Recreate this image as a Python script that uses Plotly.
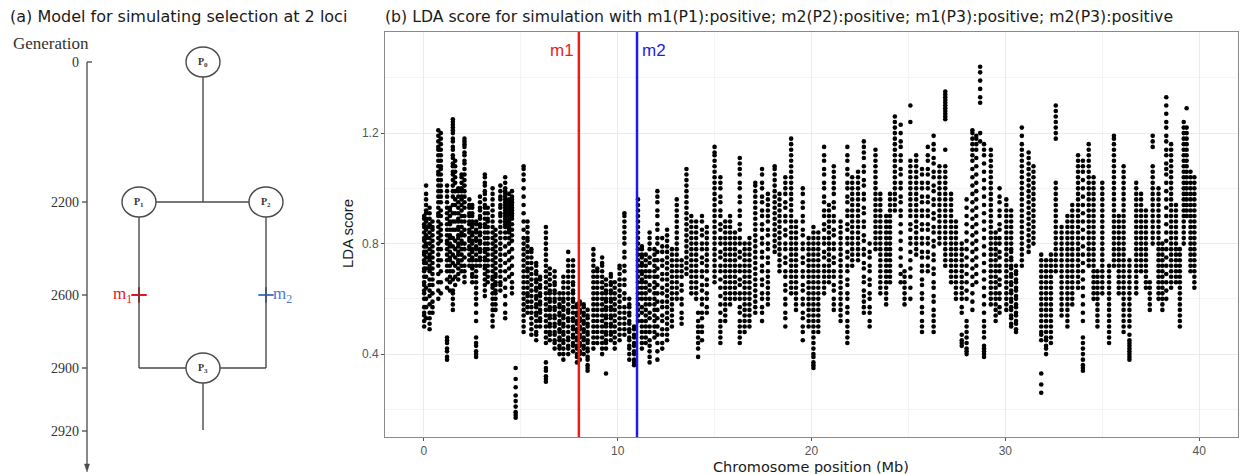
import plotly.graph_objects as go

# ---------------- data (panel b) ----------------
# chromosome position (Mb) of each streak of SNPs
streak_pos = [
    0.02, 0.12, 0.30, 0.45, 0.75, 0.88, 1.2, 1.35, 1.5, 1.62,
    1.78, 1.95, 2.1, 2.35, 2.5, 2.7, 2.9, 3.15, 3.3, 3.55,
    3.7, 3.95, 4.2, 4.4, 4.55, 4.74, 5.15, 5.35, 5.55, 5.8,
    6.0, 6.3, 6.5, 6.75, 7.0, 7.2, 7.45, 7.7, 7.9, 8.05,
    8.25, 8.45, 8.75, 8.95, 9.2, 9.4, 9.65, 9.85, 10.1, 10.35,
    10.6, 10.85, 11.05, 11.25, 11.45, 11.65, 11.9, 12.05, 12.3, 12.55,
    12.8, 13.05, 13.3, 13.55, 13.8, 14.05, 14.15, 14.35, 14.6, 15.0,
    15.3, 15.55, 15.8, 16.05, 16.3, 16.55, 16.8, 17.1, 17.45, 17.75,
    18.1, 18.35, 18.65, 18.95, 19.2, 19.55, 19.85, 20.1, 20.35, 20.65,
    20.9, 21.15, 21.5, 21.85, 22.1, 22.4, 22.7, 23.0, 23.3, 23.55,
    23.85, 24.05, 24.3, 24.6, 24.8, 25.1, 25.4, 25.7, 26.0, 26.3,
    26.6, 26.9, 27.2, 27.45, 27.75, 28.0, 28.3, 28.5, 28.7, 28.9,
    29.25, 29.5, 29.7, 30.05, 30.3, 30.55, 30.85, 31.2, 31.45, 31.85,
    32.1, 32.35, 32.6, 32.9, 33.2, 33.45, 33.75, 34.0, 34.3, 34.55,
    34.75, 35.0, 35.35, 35.6, 35.85, 36.1, 36.4, 36.75, 37.0, 37.25,
    37.45, 37.6, 37.9, 38.1, 38.3, 38.55, 38.8, 39.0, 39.2, 39.35,
    39.55, 39.75,
]

# LDA scores (x100) of the SNPs in each streak, same order as streak_pos
streak_lda = [
    [50,52,54,55,57,60,62,63,65,66,68,70,71,73,74,76,77,79,81,82,84,86,87,89,90],
    [53,57,60,64,68,71,73,75,77,79,80,82,83,85,86,88,89,91,92,94,96,98,101],
    [49,51,53,55,58,61,63,65,67,70,71,72,74,75,76,78,80,82,84,86,87,89,91,93],
    [55,57,59,62,65,67,69,71,73,75,77,79,81,83,85,86,88],
    [60,63,66,69,72,74,76,78,80,82,84,86,88,90,91,93,95,97,99,101,103,105,106,108,110,112,114,115,117,119,121],
    [62,66,70,74,78,81,83,85,87,90,92,95,97,99,101,103,105,107,108,110,112,114,116,118,120],
    [38,39,41,42,44,45,46,64,67,70,72,74,76,78,80,81,83,85,87,89,91,93,95,97,99,101],
    [63,66,68,70,72,74,75,77,79,80,82,83,85,87,88,90,92,93],
    [56,58,60,62,63,67,70,73,76,79,82,85,88,91,94,97,99,101,103,105,106,108,109,111,112,114,115,117,118,120,121,122,123,124,125],
    [65,68,72,75,78,81,85,88,91,94,96,99,102,104,106,108,110],
    [67,69,71,73,74,76,77,79,80,82,83,85,86,88,89,91,93,95,97,99,100],
    [70,72,74,76,78,80,81,83,84,86,88,90,92,94,96,97,99,100,102,104,105],
    [66,68,70,72,75,78,80,83,85,88,90,93,95,97,99,101,103,105,107,109,110,112,113,115,116,117,118],
    [72,74,76,78,79,81,82,84,85,87,88,90,91,93,94,96],
    [66,68,69,71,72,74,75,77,78,80,81,83,84,86,87,88,90,91,93,94],
    [39,40,41,43,44,46,52,55,58,60,62,64,66,68,70,72,74,76,78,79,81,82,84,85,87,88],
    [72,74,75,77,78,80,81,83,84,86,87,89,90,92,93,95,97],
    [61,63,65,67,69,71,72,74,75,77,78,80,82,84,86,87,89,91,93,94,96,98,99,101,102,104,105],
    [66,68,70,72,74,76,78,80,82,84,86,88,89,91,93],
    [50,52,54,56,58,60,62,64,65,67,68,70,72,74,76,78,80,82,84,86,88,90,92,94,96,98,100],
    [56,58,60,62,63,65,66,68,69,71,73,75,77,79,81,83,85],
    [63,65,66,68,70,72,74,76,78,80,82,84,86,88,90,91,93,94,96,97,99,101],
    [53,55,58,61,64,67,70,73,76,79,82,84,86,87,88,89,90,91,92,93,94,95,96,97,98,99,100,102,104],
    [68,71,74,77,80,82,84,85,86,87,88,89,90,91,92,93,94,95,96,98],
    [62,64,66,69,72,75,78,81,83,85,87,89,90,91,92,93,94,95,96,97,99],
    [17,18,19,21,23,25,28,31,35],
    [48,50,52,54,56,58,60,62,64,66,68,70,72,74,76,78,80,82,85,88,91,94,97,100,103,105,107,108],
    [55,57,59,61,62,64,66,68,70,71,73,75,77,79,81,82,84,86,88],
    [47,49,51,53,55,57,59,61,63,65,67,69,71,73,75,77,78],
    [45,47,48,50,52,54,55,57,58,60,61,63,64,66,67,69,70,72,73],
    [50,52,53,55,56,58,59,61,62,64,65,67,68],
    [30,31,32,34,35,37,44,46,48,50,52,54,56,58,60,62,64,66,68,70,72,74,76,78,80,82,84,86],
    [45,47,48,50,51,53,54,56,57,59,60,62,63,65,67,69,71],
    [42,44,45,47,48,50,51,53,54,56,57,59,60,62,63,65,66,68,70],
    [40,42,43,45,46,48,49,51,52,54,55,57,58,60,62],
    [38,40,42,44,45,47,48,50,51,53,54,56,57,59,60,62,64,66,68],
    [40,42,43,45,46,48,50,52,53,55,56,58,60,62,64,66,68,70,72,74,77],
    [41,43,44,46,47,49,50,52,53,55,57,59,60,62,63,65,66,68,70,72,74],
    [37,39,40,42,43,45,46,48,49,51,52,54,55,57,58],
    [38,40,41,43,44,46,47,49,50,52,53,55,56,58,59],
    [40,42,43,45,46,48,49,51,52,54,55,57,58],
    [34,35,36,38,39,41,42,44,45,47,48,50,51,53,54,56],
    [42,44,46,48,50,52,54,56,58,60,62,64,66,68,70,72,74,76,78],
    [44,46,48,50,52,54,56,58,60,62,64,66,68,70,71],
    [40,42,44,46,48,50,52,54,56,58,60,62,64,66,68,70,72,73,75],
    [33,42,44,45,47,48,50,51,53,54,56,57,59,60,62,63,65,67],
    [45,47,48,50,51,53,54,56,57,59,60,62,63,65,66,68,69],
    [42,44,46,48,50,52,54,56,58,60,62,64,66],
    [45,47,49,51,53,55,57,59,61,63,65,67,69,71,72],
    [47,49,51,53,55,57,60,62,65,67,70,72,75,77,80,82,84,86,88,90,91],
    [38,40,42,43,45,46,48,49,51,52,54,55,57,58,60],
    [36,37,38,40,41,43,44,46,47,49,50],
    [52,54,56,58,60,62,64,66,68,70,72,74,76,78,80,82,84,86,88,90,92,94,96],
    [42,44,46,48,50,52,55,57,60,62,64,66,67,69,70,72,73,75,76,78,79],
    [44,46,48,50,52,54,56,58,60,62,64,66,68,70,72,74,76],
    [37,39,41,43,45,48,50,53,55,58,60,63,65,68,70,73,75,78,80,82,84],
    [46,48,50,52,54,56,58,60,62,64,66,68,70,72,74,76,78],
    [38,41,44,47,50,53,56,59,62,65,68,71,74,77,80,82,85,87,90,92,95,97,99],
    [42,44,47,49,52,54,57,59,62,64,67,69,72,74,77,79,82],
    [45,47,49,51,53,55,57,59,61,63,65,67,69,71,73,75,77,79,81,83,85],
    [50,52,54,56,58,60,62,64,66,68,70,72,74,76,78],
    [60,62,64,66,68,70,72,74,76,78,80,82,84,86,88,90,92,94,96],
    [51,53,55,58,60,63,65,68,70,72,74],
    [69,71,73,75,77,79,81,83,85,87,89,91,93,95,97,99,101,103,105,107],
    [62,64,66,68,70,72,74,76,78,80,82,84,86,88,90],
    [60,62,64,66,68,70,72,74,76,78,80,82,84,86,88],
    [39,42,44,46,48,50,52,55],
    [45,48,50,53,55,58,60,63,65,68,70,73,75,78,80,83,85,88,90],
    [55,57,60,62,65,67,70,72,74,76,78,80,82,84,86],
    [66,68,70,72,74,76,78,80,82,84,86,88,90,92,94,96,98,100,102,104,106,108,110,112,113,115],
    [44,46,48,50,52,55,58,61,64,67,70,72,75,77,80,82,85,87,90,92,95,97,100,102,104],
    [52,54,56,58,60,62,64,66,68,70,72,74,76,78,80,82,84,86,88],
    [58,60,62,64,66,68,70,72,74,76,78,80,82,84,86,88,90],
    [60,62,64,66,68,70,72,74,76,78,80,82,84],
    [44,46,48,50,52,55,57,60,62,65,67,70,72,75,77,80,82,85,87,90,92,95,97,100,102,105,107,109,111],
    [48,50,52,54,56,58,60,62,64,66,68,70,72,74,76,78,80],
    [50,52,54,56,58,60,62,64,66,68,70,72,74,76,78,80,82],
    [55,57,59,61,63,65,67,69,71,73,75,77,79,81,83,85,87,89,91,93,95,97,99,101,102],
    [52,55,57,60,62,65,67,70,72,75,77,80,82,85,87,90,92,95,97,100,102,105,107],
    [58,60,62,64,66,68,70,73,75,78,80,83,85,88,90,92,94,96,98],
    [77,79,81,83,85,87,89,91,93,95,97,99,101,103,105,107,108],
    [70,72,74,76,78,80,82,84,86,88,90,92,94,96,98],
    [50,53,55,58,60,63,65,68,70,73,75,78,80,83,85,88,90,93,95,98,100,102,104],
    [62,64,66,68,70,72,74,76,78,80,82,84,86,88,90,92,94,96,98,100,102,104,106,108,110,112,114,116,118],
    [56,58,60,62,64,66,68,70,72,74,76,78,80,82,84,86,88],
    [45,48,50,53,55,58,60,63,65,68,70,73,75,78,80,83,85,88,90,93,95,98,100],
    [50,52,54,56,58,60,62,64,66,68,70,72,74,76,78,80,82],
    [35,36,37,39,40,42,44,46,48,50,52,54,56,58,60,62,64,66,68,70,72,74,76,78,80,82,84,86],
    [48,50,52,54,56,58,60,62,64,66,68,70,72,74,76,78,80,82,84],
    [62,64,66,68,70,72,75,77,80,82,85,87,90,92,95,97,100,102,105,107,110,112,115],
    [66,68,70,72,74,76,78,80,82,84,86,88,90,92,94],
    [56,58,60,63,65,68,70,73,75,78,80,83,85,88,90,93,95,98,100,102,104,106,108],
    [52,54,56,58,60,62,64,66,68,70,72,74,76,78,80,82,84,86,88],
    [44,46,48,50,52,55,57,60,62,65,67,70,72,75,77,80,82,85,87,90,92,95,97,100,102,105,107,110,112,115],
    [72,74,76,78,80,82,84,86,88,90,92,94,96,98,100,102,104],
    [74,76,78,80,82,84,86,88,90,92,94,96,98,100,102,104,106],
    [55,57,59,61,63,66,68,71,73,76,78,81,83,86,88,91,93,96,98,101,103,106,108,111,113,115,117],
    [50,52,55,57,60,62,65,67,70,72,75,77,80],
    [78,80,82,84,86,88,90,92,94,96,98,100,102,104,106,108,110,112,114],
    [62,64,66,68,70,72,74,76,78,80,82,84,86,88,90,92,94,96,98],
    [58,60,62,64,66,68,70,72,74,76,78,80,82,84,86,88,90],
    [66,68,70,72,74,76,78,80,82,84,86,88,90,92,94,96,98],
    [92,94,96,98,100,102,104,106,108,110,112,114,116,118,120,122,124,126],
    [66,69,72,75,78,81,84,87,90,92,95,97,100,102,105,107,110,112,115,117,120,123],
    [58,60,62,64,66,68,70],
    [60,64,68,71,74,77,80,82,85,87,90,92,94,96,98,100,102,104,106,108,110,124,130],
    [76,78,80,82,84,86,88,90,92,94,96,98,100,102,104,106,108,110,112],
    [48,50,52,55,57,60,62,65,67,70,72,75,77,80,82,85,87,90,92,95,97,100,102,105,107],
    [70,72,75,77,80,82,85,87,90,92,95,97,100,102,105,107,110,112,115],
    [48,50,52,54,56,59,61,64,66,69,71,74,76,79,81,84,86,89,91,94,96,99,101,104,106,109,111,114,116,119],
    [80,82,84,86,88,90,92,94,96,98,100,102,104,106,108],
    [72,74,76,78,80,82,84,86,88,90,92,94,96,98,100,102,104,106,108,114,125,126,127,128,129,130,131,132,133,134,135],
    [66,68,70,72,74,76,78,80,82,84,86,88,90,92,94,96,98],
    [60,62,64,66,68,70,72,74,76,78,80,82,84,86,88],
    [43,44,45,47,55,57,60,62,64,66,68,70,72,74,76,78,80],
    [40,41,42,44,46,48,50,52,60,63,66,69,72,75,78,81,84,87,90,93,96],
    [56,59,62,65,68,71,74,77,80,83,86,89,92,95,98,101,104,107,110,112,114,116,118,120,121],
    [66,69,72,75,78,81,84,87,90,93,96,99,102,105,108,111,114,116,118,119],
    [117,120,131,133,136,139,142,144],
    [39,40,41,42,43,46,48,50,52,55,58,61,64,67,70,73,76,79,82,85,88,91,94,97,100,103,106,109,112,114,116],
    [58,60,62,64,66,68,70,72,74,76,78,80,82,84,86,88,90,92,94,96,98,100,102,104,106,108,110,112,114],
    [52,54,56,58,60,62,64,66,68,70,72,74,76,78,80,82,84],
    [55,57,60,62,65,67,70,72,75,77,80,82,85,87,90,92,95,97,100],
    [56,58,60,62,64,66,68,70,72,74,76,78,80,82,84,86,88,90,92,94,96],
    [50,51,53,54,56,57,59,60,62,63,65,66,68,69,71,72,74,75,77,78,80,82,84,86,88,90,92],
    [48,49,51,52,54,55,57,58,60,61,63,64,66,67,69,70,72],
    [72,74,76,78,80,82,84,86,88,90,92,94,96,98,100,102,104,106,108,110,112,114,116,119,122],
    [77,79,81,83,85,87,89,91,93,95,97,99,101,103,105,107,109,111,113],
    [80,82,84,86,88,90,92,94,96,98,100,102,104,106,108],
    [26,29,33,45,47,48,50,52,54,56,58,60,62,64,66,68,70,72,74,76],
    [40,42,43,45,46,48,50,52,54,56,58,60,62,64,66,68,70,72,74],
    [44,46,48,50,52,54,56,58,60,62,64,66,68,70,72,74,76],
    [70,72,74,76,78,80,82,84,86,88,90,92,94,96,98,100,102,118,120,122,124,126,128,130],
    [54,56,58,60,62,64,66,68,70,72,74,76,78,80,82,84,86],
    [50,52,54,56,58,60,62,64,66,68,70,72,74,76,78,80,82,84,86,88,90],
    [58,60,62,64,66,68,70,72,74,76,78,80,82,84,86,88,90,92,94],
    [64,66,68,70,72,74,76,78,80,82,84,86,88,90,92,94,96,98,100,102,104,106,108,110,112],
    [34,35,36,38,40,42,44,46,52,55,58,61,64,67,70,73,76,79,82,85,88,91,94,97,100,103,106,108,110],
    [72,74,76,78,80,82,84,86,88,90,92,94,96,98,100,102,104,106,108,110,112,114,116],
    [60,62,64,66,68,70,72,74,76,78,80,82,84,86,88,90,92,94,96,98,100,102,104],
    [50,52,54,56,58,60,62,64,66,68,70],
    [62,64,66,68,70,72,74,76,78,80,82,84,86,88,90,92,94,96,98,100,102],
    [44,46,48,50,52,54,56,58,60,62,64,66,68,70,72],
    [72,74,76,78,80,82,84,86,88,90,92,94,96,98,100,102,104,106,108,110,112,114,116,118,119],
    [62,64,66,68,70,72,74,76,78,80,82,84,86,88,90],
    [48,50,52,54,56,58,60,62,64,66,68,70,72,74,76,78,80,82,84,86,88,90,92,94,96,98,100,102,104,106,108],
    [38,39,40,41,42,43,44,45,47,50,52,54,56,58,60,62,64,66,68,70,72,74],
    [62,64,66,68,70,72,74,76,78,80,82,84,86,88,90,92,94,96,98,100,102],
    [70,72,74,76,78,80,82,84,86,88,90,92,94,96,98],
    [64,66,68,70,72,74,76,78,80,82,84,86,88,90,92],
    [56,58,60,62,64,66],
    [80,82,84,86,88,90,92,94,96,98,100,102,104,106,108,115,117,119],
    [60,62,64,66,68,70,72,74,76,78,80,82,84,86,88,90,92,94,96,98,100],
    [56,58,60,62,64,66,68,70,72,74,76,78,80],
    [60,63,66,69,72,75,78,81,84,87,90,93,96,99,102,105,107,109,112,114,117,119,122,124,127,130,133],
    [64,66,68,70,72,74,76,78,80,82,84,86,88,90,92,94,96,98,100,102,104,106,108,110,112,114,116],
    [66,68,70,72,74,76,78,80,82,84,86,88,90,92,94],
    [50,52,54,56,58,60,62,64,66,68,70,72,74,76,78],
    [80,82,84,86,88,90,92,94,96,98,100,102,104,106,108,110,112,114,116,118,120,122,124],
    [90,92,94,96,98,100,102,104,106,108,110,112,114,116,118,120,122,129],
    [70,72,74,76,78,80,82,84,86,88,90,92,94,96,98,100,102,104,106],
    [64,66,68,70,72,74,76,78,80,82,84,86,88,90,92,94,96,98,100,102,104],
]
assert len(streak_pos) == len(streak_lda)

marker_names = ["m1", "m2"]
marker_mb = [8, 11]
x_ticks = [0, 10, 20, 30, 40]
y_ticks = [0.4, 0.8, 1.2]

# ---------------- data (panel a) ----------------
gen_labels = ["0", "2200", "2600", "2900", "2920"]
pop_labels = ["P<sub>0</sub>", "P<sub>1</sub>", "P<sub>2</sub>", "P<sub>3</sub>"]
mut_labels = ["m<sub>1</sub>", "m<sub>2</sub>"]

pos, lda = [], []
for x, ys in zip(streak_pos, streak_lda):
    for v in ys:
        pos.append(x)
        lda.append(v / 100.0)

W, H = 1244, 474
SANS = "Liberation Sans, Arial, Helvetica, sans-serif"
WIDE = "DejaVu Sans, Verdana, sans-serif"
SERIF = "Liberation Serif, Times New Roman, serif"

fig = go.Figure()
fig.add_trace(go.Scatter(
    x=pos, y=lda, mode="markers",
    marker=dict(color="black", size=4.6, line=dict(width=0)),
    xaxis="x", yaxis="y", showlegend=False, hoverinfo="skip",
))

shapes, annotations = [], []
line_cols = {"m1": "#ec1c1c", "m2": "#1c1ce8"}
for name, mb in zip(marker_names, marker_mb):
    shapes.append(dict(type="line", xref="x", yref="y domain", x0=mb, x1=mb, y0=0, y1=1,
                       line=dict(color=line_cols[name], width=2.5), layer="above"))
    annotations.append(dict(xref="x", yref="y", x=mb, y=1.50, text=name, showarrow=False,
                            xanchor="right" if name == "m1" else "left",
                            xshift=-3 if name == "m1" else 3,
                            font=dict(family=SANS, size=17, color=line_cols[name])))

# ---------------- panel a diagram (pixel coordinates on x2/y2) ----------------
gen_y = [62, 202, 295, 368, 431]
axis_x = 87
gcol = "#4a4a4a"
shapes.append(dict(type="line", xref="x2", yref="y2", x0=axis_x, x1=axis_x, y0=gen_y[0], y1=466,
                   line=dict(color=gcol, width=1.3)))
shapes.append(dict(type="path", xref="x2", yref="y2", path="M 84.5 464 L 89.5 464 L 87 472 Z",
                   fillcolor=gcol, line=dict(color=gcol, width=0.5)))
for lab, gy in zip(gen_labels, gen_y):
    shapes.append(dict(type="line", xref="x2", yref="y2", x0=axis_x - 5 if lab != "0" else axis_x,
                       x1=axis_x if lab != "0" else axis_x + 5, y0=gy, y1=gy,
                       line=dict(color=gcol, width=1.3)))
    annotations.append(dict(xref="x2", yref="y2", x=axis_x - 6, y=gy, text=lab, showarrow=False,
                            xanchor="right", yanchor="middle",
                            font=dict(family=SERIF, size=14, color="#333333")))
annotations.append(dict(xref="x2", yref="y2", x=51, y=43, text="Generation", showarrow=False,
                        xanchor="center", yanchor="middle",
                        font=dict(family=SERIF, size=17, color="#333333")))

centers = [(203, 62), (139, 202), (266, 202), (203, 368)]
rx, ry = 17, 15
segs = [
    (203, 77, 203, 202), (156, 202, 249, 202),
    (139, 217, 139, 368), (266, 217, 266, 368),
    (139, 368, 186, 368), (220, 368, 266, 368),
    (203, 383, 203, 430),
]
for x0, y0, x1, y1 in segs:
    shapes.append(dict(type="line", xref="x2", yref="y2", x0=x0, y0=y0, x1=x1, y1=y1,
                       line=dict(color=gcol, width=1.4)))
for lab, (cx, cy) in zip(pop_labels, centers):
    shapes.append(dict(type="circle", xref="x2", yref="y2", x0=cx - rx, x1=cx + rx,
                       y0=cy - ry, y1=cy + ry, line=dict(color=gcol, width=1.4), fillcolor="white"))
    annotations.append(dict(xref="x2", yref="y2", x=cx, y=cy, text="<b>" + lab + "</b>",
                            showarrow=False, xanchor="center", yanchor="middle",
                            font=dict(family=SERIF, size=10, color="#333333")))

mut_cols = ["#e8141c", "#4a78d6"]
mut_xy = [(139, 295), (266, 295)]
for lab, col, (mx, my), side in zip(mut_labels, mut_cols, mut_xy, ["left", "right"]):
    fig.add_trace(go.Scatter(x=[mx], y=[my], mode="markers", xaxis="x2", yaxis="y2",
                             marker=dict(symbol="cross-thin", size=11, color=col,
                                         line=dict(width=2, color=col)),
                             showlegend=False, hoverinfo="skip"))
    annotations.append(dict(xref="x2", yref="y2", x=mx - 5 if side == "left" else mx + 5, y=my,
                            text=lab, showarrow=False,
                            xanchor="right" if side == "left" else "left", yanchor="middle",
                            font=dict(family=SERIF, size=17, color=col)))

# titles
annotations.append(dict(xref="paper", yref="paper", x=8 / W, y=1 - 16 / H,
                        text="(a) Model for simulating selection at 2 loci", showarrow=False,
                        xanchor="left", yanchor="middle",
                        font=dict(family=WIDE, size=16, color="#1a1a1a")))
annotations.append(dict(xref="paper", yref="paper", x=383 / W, y=1 - 16 / H,
                        text="(b) LDA score for simulation with m1(P1):positive; m2(P2):positive; "
                             "m1(P3):positive; m2(P3):positive",
                        showarrow=False, xanchor="left", yanchor="middle",
                        font=dict(family=WIDE, size=15.7, color="#1a1a1a")))
annotations.append(dict(xref="paper", yref="paper", x=(385 + 1238) / 2 / W, y=1 - 466.5 / H,
                        text="Chromosome position (Mb)", showarrow=False,
                        xanchor="center", yanchor="middle",
                        font=dict(family=WIDE, size=14.5, color="#1a1a1a")))
annotations.append(dict(xref="paper", yref="paper", x=348 / W, y=1 - 234 / H,
                        text="LDA score", showarrow=False, textangle=-90,
                        xanchor="center", yanchor="middle",
                        font=dict(family=SANS, size=15, color="#1a1a1a")))

grid_major = "#ebebeb"
grid_minor = "#f4f4f4"
fig.update_layout(
    width=W, height=H, margin=dict(l=0, r=0, t=0, b=0),
    paper_bgcolor="white", plot_bgcolor="white", showlegend=False,
    font=dict(family=SANS),
    xaxis=dict(domain=[385 / W, 1238 / W], range=[-2, 42], tickvals=x_ticks,
               ticktext=[str(v) for v in x_ticks], showgrid=True, gridcolor=grid_major,
               gridwidth=1, zeroline=False, showline=True, linecolor="#8a8a8a", linewidth=1,
               mirror=True, ticks="outside", ticklen=3, tickcolor="#555555",
               tickfont=dict(family=SANS, size=12, color="#555555"),
               minor=dict(tickvals=[5, 15, 25, 35], showgrid=True, gridcolor=grid_minor,
                          gridwidth=1, ticks=""),
               fixedrange=True),
    yaxis=dict(domain=[1 - 437 / H, 1 - 32 / H], range=[0.10, 1.566], tickvals=y_ticks,
               ticktext=["0.4", "0.8", "1.2"], showgrid=True, gridcolor=grid_major,
               gridwidth=1, zeroline=False, showline=True, linecolor="#8a8a8a", linewidth=1,
               mirror=True, ticks="outside", ticklen=3, tickcolor="#555555",
               tickfont=dict(family=SANS, size=12, color="#555555"),
               minor=dict(tickvals=[0.2, 0.6, 1.0, 1.4], showgrid=True, gridcolor=grid_minor,
                          gridwidth=1, ticks=""),
               fixedrange=True),
    xaxis2=dict(domain=[0, 360 / W], range=[0, 360], visible=False, fixedrange=True),
    yaxis2=dict(domain=[0, 1], range=[H, 0], visible=False, fixedrange=True),
    shapes=shapes, annotations=annotations,
)

fig.write_html("out.html")
